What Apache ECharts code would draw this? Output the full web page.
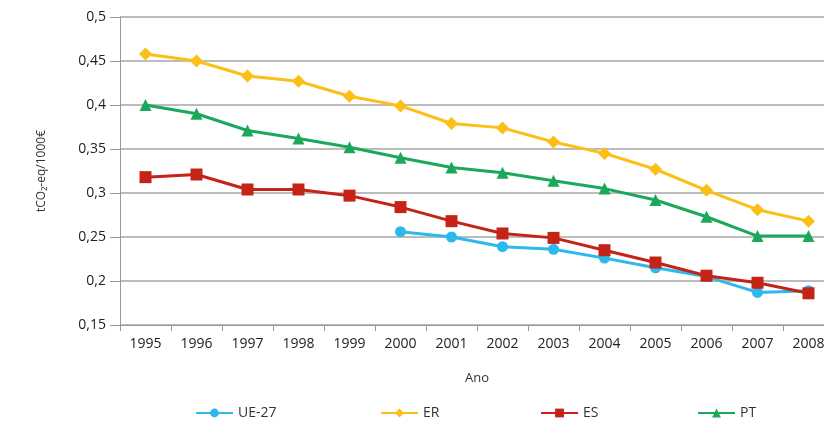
<!DOCTYPE html>
<html>
<head>
<meta charset="utf-8">
<script src="https://cdn.jsdelivr.net/npm/echarts@6/dist/echarts.min.js"></script>
<style>
html,body{margin:0;padding:0;background:#fff;}
#chart{width:824px;height:421px;}
</style>
</head>
<body>
<div id="chart"></div>
<script>
const years = ['1995','1996','1997','1998','1999','2000','2001','2002','2003','2004','2005','2006','2007','2008'];
const ue27 = [null,null,null,null,null,0.256,0.250,0.239,0.236,0.226,0.215,0.205,0.187,0.189];
const er   = [0.458,0.450,0.433,0.427,0.410,0.399,0.379,0.374,0.358,0.345,0.327,0.303,0.281,0.268];
const es   = [0.318,0.321,0.304,0.304,0.297,0.284,0.268,0.254,0.249,0.235,0.221,0.206,0.198,0.186];
const pt   = [0.400,0.390,0.371,0.362,0.352,0.340,0.329,0.323,0.314,0.305,0.292,0.273,0.251,0.251];
const yTicks = [0.15,0.2,0.25,0.3,0.35,0.4,0.45,0.5];

const FONT = 'Open Sans';
const chart = echarts.init(document.getElementById('chart'));

function line(name, data, color, symbol, size){
  return {
    name, type:'line', data, symbol, symbolSize:size,
    lineStyle:{color, width:3},
    itemStyle:{color},
    showAllSymbol:true, connectNulls:false, animation:false, z: 3
  };
}
function legend(name, left){
  return {
    data:[name], left, top:401, itemWidth:37, itemHeight:11, itemGap:0,
    textStyle:{fontFamily:FONT, fontSize:14, color:'#333'}
  };
}

chart.setOption({
  animation:false,
  grid:{left:120, width:714, top:17, bottom:96, containLabel:false, outerBoundsMode:'none'},
  legend:[legend('UE-27',190), legend('ER',375), legend('ES',535), legend('PT',692)],
  xAxis:{
    type:'category', data:years, boundaryGap:true,
    name:'Ano', nameLocation:'middle', nameGap:47,
    nameTextStyle:{fontFamily:FONT, fontSize:13, color:'#333'},
    axisLine:{lineStyle:{color:'#999', width:1}},
    axisTick:{show:true, length:6, lineStyle:{color:'#999'}},
    axisLabel:{fontFamily:FONT, fontSize:14, color:'#222', margin:12, hideOverlap:false},
    splitLine:{show:false}
  },
  yAxis:{
    type:'value', min:0.15, max:0.5, interval:0.05,
    name:'tCO₂-eq/1000€', nameLocation:'middle', nameGap:72, nameRotate:90,
    nameTextStyle:{fontFamily:FONT, fontSize:12, color:'#333'},
    axisLine:{show:true, lineStyle:{color:'#999', width:1}},
    axisTick:{show:true, length:10, lineStyle:{color:'#999'}},
    axisLabel:{fontFamily:FONT, fontSize:14, color:'#222', margin:14,
      formatter:v => String(+v.toFixed(2)).replace('.', ',')},
    splitLine:{show:true, lineStyle:{color:'#a6a6a6', width:1.5}}
  },
  series:[
    line('UE-27', ue27, '#2DB9EC', 'circle', 11),
    line('ER', er, '#FBBF16', 'diamond', 13),
    line('ES', es, '#C42318', 'rect', 12),
    line('PT', pt, '#1BA85A', 'triangle', 12)
  ]
});
</script>
</body>
</html>
